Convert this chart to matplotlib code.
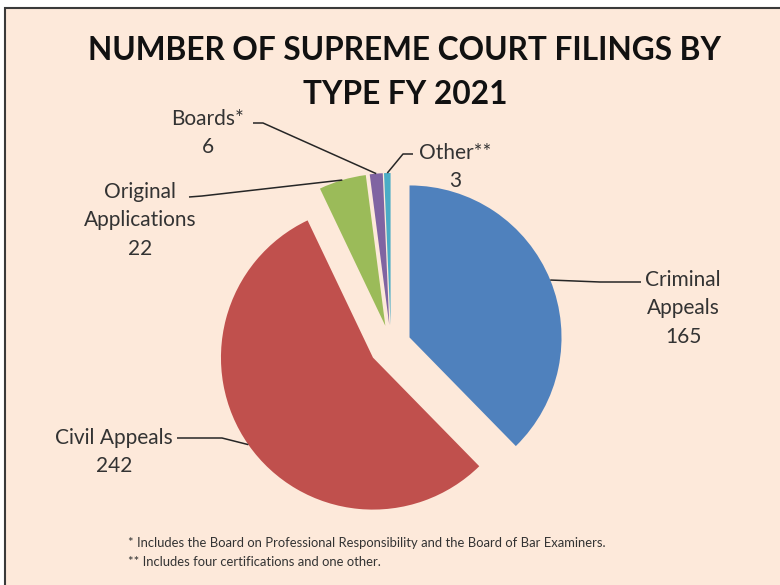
import numpy as np
import matplotlib.pyplot as plt
from matplotlib.patches import Rectangle

plt.rcParams['font.family'] = ['Lato', 'DejaVu Sans']

# data
categories = ['Criminal\nAppeals', 'Civil Appeals', 'Original\nApplications', 'Boards*', 'Other**']
filings = [165, 242, 22, 6, 3]
colors = ['#4F81BD', '#C0504D', '#9BBB59', '#8064A2', '#4BACC6']

W, H = 780, 585
fig = plt.figure(figsize=(W / 100, H / 100), dpi=100, facecolor='white')
ax = fig.add_axes([0, 0, 1, 1])

# chart area background with frame (cropped on right/bottom)
ax.add_patch(Rectangle((5, -10), W + 20, H - 8 + 10, facecolor='#FDE9DA',
                       edgecolor='#3a3a3a', linewidth=1.5, zorder=0))

# axes is in pixel units, so explode is an offset in px
cx, cy, R = 391, H - 345, 152
explode = [20, 22, 20, 20, 20]
wedges, _ = ax.pie(filings, colors=colors, explode=explode, startangle=90,
                   counterclock=False, center=(cx, cy), radius=R,
                   wedgeprops=dict(linewidth=0), frame=True)
ax.set_xlim(0, W)
ax.set_ylim(0, H)
ax.set_aspect('equal')
ax.axis('off')


def anchor(w):
    a = np.deg2rad((w.theta1 + w.theta2) / 2)
    return w.center[0] + w.r * np.cos(a), w.center[1] + w.r * np.sin(a)


# label text position (screen px), leader start, elbow
label_pos = [(683, 270), (114, 428), (140, 182), (208, 109), (455, 143)]
leader_start = [(641, 282), (177, 438), (189, 197), (253, 123), (413, 154)]
elbow = [(600, 282), (222, 438), (202, 196), (263, 123), (403, 154)]

txtcol = '#333333'
for w, lab, val, (tx, ty), (sx, sy), (ex, ey) in zip(wedges, categories, filings,
                                                       label_pos, leader_start, elbow):
    ax.text(tx, H - ty, f'{lab}\n{val}', ha='center', va='top', fontsize=15,
            color=txtcol, linespacing=1.52)
    axp, ayp = anchor(w)
    ax.plot([sx, ex, axp], [H - sy, H - ey, ayp], color='#262626', lw=1.1,
            solid_capstyle='butt')

ax.text(405, H - 50, 'NUMBER OF SUPREME COURT FILINGS BY', ha='center', va='center',
        fontsize=22.8, fontweight='bold', color='#111111')
ax.text(405, H - 95, 'TYPE FY 2021', ha='center', va='center',
        fontsize=22.8, fontweight='bold', color='#111111')

ax.text(128, H - 543, '* Includes the Board on Professional Responsibility and the Board of Bar Examiners.',
        ha='left', va='center', fontsize=9.4, color=txtcol)
ax.text(128, H - 562, '** Includes four certifications and one other.',
        ha='left', va='center', fontsize=9.4, color=txtcol)

fig.savefig('out.png', dpi=100, facecolor='white')
